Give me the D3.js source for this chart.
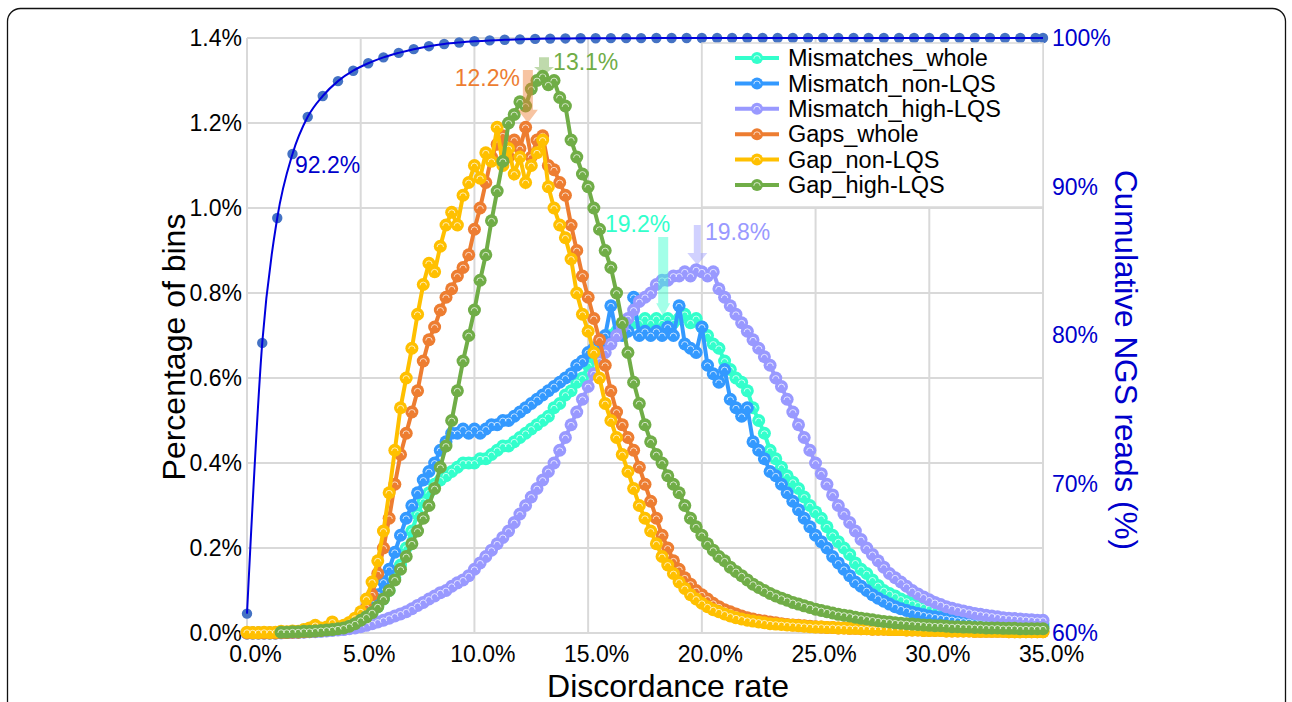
<!DOCTYPE html>
<html>
<head>
<meta charset="utf-8">
<title>Discordance rate</title>
<script src="https://d3js.org/d3.v7.min.js"></script>
<style>
  body { margin: 0; background: #fff; font-family: "Liberation Sans", Arial, Helvetica, sans-serif; }
  svg { display: block; }
</style>
</head>
<body>
<script>
// discordance rate bins (%), every 0.25%
const bins = [
  0,0.25,0.5,0.75,1,1.25,1.5,1.75,2,2.25,2.5,2.75,3,3.25,3.5,3.75,4,4.25,4.5,4.75,
  5,5.25,5.5,5.75,6,6.25,6.5,6.75,7,7.25,7.5,7.75,8,8.25,8.5,8.75,9,9.25,9.5,9.75,
  10,10.25,10.5,10.75,11,11.25,11.5,11.75,12,12.25,12.5,12.75,13,13.25,13.5,13.75,14,14.25,14.5,14.75,
  15,15.25,15.5,15.75,16,16.25,16.5,16.75,17,17.25,17.5,17.75,18,18.25,18.5,18.75,19,19.25,19.5,19.75,
  20,20.25,20.5,20.75,21,21.25,21.5,21.75,22,22.25,22.5,22.75,23,23.25,23.5,23.75,24,24.25,24.5,24.75,
  25,25.25,25.5,25.75,26,26.25,26.5,26.75,27,27.25,27.5,27.75,28,28.25,28.5,28.75,29,29.25,29.5,29.75,
  30,30.25,30.5,30.75,31,31.25,31.5,31.75,32,32.25,32.5,32.75,33,33.25,33.5,33.75,34,34.25,34.5,34.75,
  35];

// percentage of bins (%)
const mismatchesWhole = [
  0,0,0,0,0,0,0.001,0.001,0.002,0.002,0.003,0.003,0.004,0.005,0.006,0.007,0.009,0.012,0.016,0.022,
  0.03,0.038,0.048,0.062,0.08,0.10,0.13,0.16,0.20,0.24,0.28,0.31,0.33,0.35,0.36,0.37,0.38,0.39,0.40,0.40,
  0.40,0.41,0.41,0.42,0.43,0.44,0.44,0.45,0.46,0.47,0.48,0.49,0.50,0.51,0.53,0.54,0.56,0.57,0.59,0.60,
  0.63,0.65,0.67,0.69,0.70,0.71,0.72,0.72,0.73,0.73,0.74,0.73,0.74,0.73,0.74,0.73,0.74,0.75,0.73,0.74,
  0.72,0.70,0.68,0.67,0.64,0.62,0.60,0.59,0.57,0.53,0.50,0.47,0.43,0.41,0.39,0.37,0.355,0.34,0.32,0.30,
  0.285,0.27,0.25,0.23,0.215,0.20,0.185,0.165,0.15,0.14,0.125,0.112,0.10,0.093,0.087,0.08,0.075,0.07,0.066,0.062,
  0.058,0.055,0.052,0.049,0.046,0.044,0.042,0.04,0.038,0.036,0.034,0.032,0.031,0.03,0.028,0.027,0.026,0.025,0.024,0.023,
  0.022];
const mismatchNonLQS = [
  0,0,0,0,0,0,0.001,0.001,0.002,0.002,0.003,0.004,0.005,0.006,0.007,0.009,0.011,0.015,0.02,0.03,
  0.04,0.05,0.07,0.09,0.12,0.15,0.19,0.23,0.27,0.30,0.33,0.36,0.38,0.40,0.43,0.45,0.47,0.47,0.48,0.47,
  0.48,0.47,0.48,0.49,0.49,0.50,0.50,0.51,0.52,0.53,0.54,0.55,0.56,0.57,0.58,0.59,0.60,0.61,0.63,0.64,
  0.66,0.67,0.68,0.70,0.77,0.70,0.70,0.71,0.79,0.70,0.71,0.70,0.71,0.70,0.72,0.70,0.77,0.68,0.67,0.66,
  0.72,0.63,0.61,0.59,0.62,0.55,0.53,0.51,0.53,0.45,0.43,0.41,0.38,0.37,0.35,0.33,0.31,0.29,0.27,0.25,
  0.23,0.215,0.20,0.18,0.165,0.15,0.135,0.12,0.11,0.10,0.09,0.082,0.075,0.068,0.062,0.057,0.053,0.049,0.046,0.043,
  0.04,0.038,0.036,0.034,0.032,0.03,0.028,0.027,0.026,0.024,0.023,0.022,0.021,0.02,0.019,0.018,0.017,0.017,0.016,0.016,
  0.015];
const mismatchHighLQS = [
  0,0,0,0,0,0,0,0.001,0.001,0.002,0.002,0.003,0.003,0.004,0.005,0.006,0.007,0.008,0.01,0.012,
  0.015,0.018,0.022,0.026,0.03,0.035,0.04,0.045,0.05,0.057,0.065,0.072,0.08,0.087,0.095,0.10,0.11,0.118,0.125,0.135,
  0.15,0.165,0.18,0.195,0.21,0.225,0.24,0.26,0.28,0.30,0.32,0.34,0.36,0.38,0.40,0.43,0.46,0.49,0.52,0.55,
  0.58,0.61,0.64,0.66,0.68,0.70,0.72,0.74,0.76,0.78,0.79,0.80,0.82,0.83,0.83,0.84,0.84,0.85,0.84,0.855,
  0.85,0.84,0.85,0.81,0.79,0.77,0.75,0.73,0.71,0.69,0.67,0.65,0.63,0.60,0.58,0.55,0.52,0.49,0.46,0.43,
  0.40,0.375,0.35,0.325,0.30,0.28,0.26,0.24,0.22,0.20,0.185,0.17,0.155,0.14,0.13,0.12,0.11,0.10,0.092,0.085,
  0.078,0.072,0.067,0.062,0.058,0.055,0.052,0.049,0.046,0.044,0.042,0.04,0.038,0.036,0.035,0.034,0.033,0.032,0.031,0.03,
  0.03];
const gapsWhole = [
  0,0,0,0,0,0,0.001,0.001,0.002,0.002,0.003,0.004,0.005,0.006,0.008,0.01,0.012,0.015,0.02,0.028,
  0.04,0.06,0.09,0.14,0.20,0.27,0.35,0.42,0.47,0.52,0.57,0.64,0.69,0.72,0.76,0.79,0.81,0.84,0.86,0.89,
  0.95,1.00,1.06,1.12,1.15,1.17,1.12,1.16,1.14,1.19,1.12,1.16,1.17,1.10,1.09,1.06,1.03,0.96,0.90,0.84,
  0.79,0.74,0.69,0.63,0.57,0.52,0.49,0.46,0.43,0.39,0.35,0.31,0.27,0.23,0.20,0.17,0.15,0.13,0.115,0.10,
  0.09,0.08,0.07,0.062,0.055,0.05,0.045,0.04,0.036,0.033,0.03,0.028,0.026,0.024,0.022,0.02,0.019,0.018,0.017,0.016,
  0.015,0.014,0.013,0.013,0.012,0.012,0.011,0.011,0.010,0.010,0.009,0.009,0.009,0.008,0.008,0.008,0.007,0.007,0.007,0.006,
  0.006,0.006,0.006,0.005,0.005,0.005,0.005,0.005,0.004,0.004,0.004,0.004,0.004,0.004,0.003,0.003,0.003,0.003,0.003,0.003,
  0.003];
const gapNonLQS = [
  0.002,0.001,0.001,0.002,0.001,0.002,0.004,0.003,0.005,0.004,0.008,0.012,0.018,0.012,0.014,0.026,0.015,0.018,0.025,0.035,
  0.05,0.08,0.12,0.17,0.24,0.33,0.43,0.53,0.60,0.67,0.75,0.82,0.87,0.85,0.91,0.96,0.99,0.96,1.03,1.06,
  1.10,1.07,1.13,1.11,1.19,1.10,1.14,1.08,1.12,1.06,1.10,1.13,1.16,1.05,1.00,0.96,0.93,0.88,0.80,0.75,
  0.71,0.66,0.60,0.54,0.50,0.46,0.42,0.38,0.34,0.30,0.27,0.24,0.21,0.18,0.16,0.14,0.12,0.105,0.09,0.08,
  0.07,0.062,0.055,0.05,0.045,0.04,0.036,0.033,0.03,0.028,0.026,0.024,0.022,0.021,0.02,0.019,0.018,0.017,0.016,0.015,
  0.014,0.014,0.013,0.013,0.012,0.012,0.011,0.011,0.010,0.010,0.009,0.009,0.009,0.008,0.008,0.008,0.007,0.007,0.007,0.006,
  0.006,0.006,0.006,0.005,0.005,0.005,0.005,0.005,0.004,0.004,0.004,0.004,0.004,0.004,0.003,0.003,0.003,0.003,0.003,0.003,
  0.003];
const gapHighLQS = [
  null,null,null,null,null,null,0.002,0.002,0.003,0.003,0.004,0.004,0.005,0.006,0.007,0.008,0.01,0.012,0.016,0.022,
  0.03,0.038,0.048,0.062,0.08,0.10,0.125,0.15,0.18,0.21,0.24,0.27,0.30,0.34,0.39,0.44,0.50,0.57,0.64,0.70,
  0.76,0.83,0.89,0.97,1.04,1.11,1.20,1.22,1.25,1.24,1.28,1.30,1.31,1.29,1.30,1.26,1.24,1.16,1.12,1.08,
  1.05,1.00,0.95,0.90,0.86,0.80,0.73,0.66,0.59,0.54,0.49,0.45,0.42,0.40,0.37,0.35,0.33,0.30,0.27,0.25,
  0.23,0.21,0.195,0.18,0.17,0.155,0.145,0.135,0.125,0.115,0.107,0.10,0.093,0.087,0.082,0.077,0.072,0.068,0.064,0.06,
  0.056,0.053,0.05,0.047,0.044,0.042,0.04,0.037,0.035,0.033,0.031,0.029,0.027,0.026,0.024,0.023,0.022,0.021,0.02,0.019,
  0.018,0.017,0.017,0.016,0.015,0.015,0.014,0.014,0.013,0.013,0.012,0.012,0.012,0.011,0.011,0.011,0.010,0.010,0.010,0.010,
  0.01];

// cumulative NGS reads (%), right axis
const cumBins = [0,0.67,1.33,2,2.67,3.33,4,4.67,5.33,6,6.67,7.33,8,8.67,9.33,10,10.67,11.33,12,12.67,13.33,14,14.67,
  15.33,16,16.67,17.33,18,18.67,19.33,20,20.67,21.33,22,22.67,23.33,24,24.67,25.33,26,26.67,27.33,28,28.67,29.33,30,
  30.67,31.33,32,32.67,33.33,34,34.67,35];
const cumReads = [61.3,79.5,87.9,92.2,94.7,96.1,97.1,97.8,98.3,98.7,99.0,99.25,99.45,99.6,99.7,99.78,99.84,99.88,99.91,
  99.94,99.96,99.97,99.98,99.98,99.99,99.99,99.99,100,100,100,100,100,100,100,100,100,100,100,100,100,100,100,100,100,
  100,100,100,100,100,100,100,100,100,100];

const seriesNames = ["Mismatches_whole","Mismatch_non-LQS","Mismatch_high-LQS","Gaps_whole","Gap_non-LQS","Gap_high-LQS"];
const seriesValues = [mismatchesWhole, mismatchNonLQS, mismatchHighLQS, gapsWhole, gapNonLQS, gapHighLQS];
const seriesColors = ["#33ffcc","#3399ff","#9999ff","#ed7d31","#ffc000","#70ad47"];

const xTicks = [0,5,10,15,20,25,30,35];
const yTicks = [0,0.2,0.4,0.6,0.8,1.0,1.2,1.4];
const y2Ticks = [60,70,80,90,100];

// peak marks: label, arrow position (discordance %) and arrow top/neck/tip (percentage of bins)
const peakLabels = ["12.2%","13.1%","19.2%","19.8%"];
const peakColors = ["#ed7d31","#70ad47","#33ffcc","#9999ff"];
const peakArrowX = [12.35, 13.06, 18.3, 19.8];
const peakArrowY = [[1.325,1.231,1.20],[1.355,1.332,1.313],[0.932,0.776,0.746],[0.96,0.894,0.866]];
const peakLabelPos = [[12.0,1.287,"end"],[13.46,1.325,"start"],[15.74,0.944,"start"],[20.14,0.925,"start"]];

const width = 1292, height = 702;
const margin = {top: 38, left: 247};
const w = 796, h = 595;
const font = '"Liberation Sans", Arial, Helvetica, sans-serif';

const svg = d3.select("body").append("svg")
    .attr("width", width).attr("height", height)
    .style("font-family", font);

svg.append("rect")
   .attr("x", 7.5).attr("y", 8.5).attr("width", 1278).attr("height", 740).attr("rx", 13)
   .attr("fill", "none").attr("stroke", "#111").attr("stroke-width", 1.3);

const g = svg.append("g").attr("transform", `translate(${margin.left},${margin.top})`);

const x = d3.scaleLinear().domain([0, 35]).range([0, w]);
const y = d3.scaleLinear().domain([0, 1.4]).range([h, 0]);
const y2 = d3.scaleLinear().domain([60, 100]).range([h, 0]);

// grid
g.selectAll(".vgrid").data(xTicks).enter().append("line")
   .attr("x1", d => x(d)).attr("x2", d => x(d)).attr("y1", 0).attr("y2", h)
   .attr("stroke", "#d9d9d9").attr("stroke-width", 2);
g.selectAll(".hgrid").data(yTicks).enter().append("line")
   .attr("x1", 0).attr("x2", w).attr("y1", d => y(d)).attr("y2", d => y(d))
   .attr("stroke", "#d9d9d9").attr("stroke-width", 2);

// axes
function styleAxis(sel, color) {
  sel.select(".domain").remove();
  sel.selectAll("text").attr("font-size", 23).attr("font-family", font).attr("fill", color);
}
g.append("g")
   .call(d3.axisLeft(y).tickValues(yTicks).tickFormat(d => d.toFixed(1) + "%").tickSize(0).tickPadding(5))
   .call(s => styleAxis(s, "#000"));
g.append("g").attr("transform", `translate(0,${h})`)
   .call(d3.axisBottom(x).tickValues(xTicks).tickFormat(d => d.toFixed(1) + "%").tickSize(0).tickPadding(13))
   .call(s => { styleAxis(s, "#000"); s.selectAll("text").attr("dx", 8); });
g.append("g").attr("transform", `translate(${w},0)`)
   .call(d3.axisRight(y2).tickValues(y2Ticks).tickFormat(d => d + "%").tickSize(0).tickPadding(9))
   .call(s => styleAxis(s, "#0000cc"));

// titles
svg.append("text").attr("x", 668).attr("y", 697).attr("text-anchor", "middle")
   .attr("font-size", 32).attr("fill", "#000").text("Discordance rate");
svg.append("text").attr("transform", "translate(185,347) rotate(-90)").attr("text-anchor", "middle")
   .attr("font-size", 32).attr("fill", "#000").text("Percentage of bins");
svg.append("text").attr("transform", "translate(1115,360) rotate(90)").attr("text-anchor", "middle")
   .attr("font-size", 31.5).attr("fill", "#0000cc").text("Cumulative NGS reads (%)");

// series
const line = d3.line().defined(d => d[1] != null).x(d => x(d[0])).y(d => y(d[1]));
const highlight = "M-3.2,0.8 A3.2,3.2 0 0 1 3.2,0.8";

seriesValues.forEach(function(vals, k) {
  const pts = bins.map((b, i) => [b, vals[i]]);
  const sg = g.append("g");
  sg.append("path").datum(pts).attr("d", line)
     .attr("fill", "none").attr("stroke", seriesColors[k]).attr("stroke-width", 4);
  const ok = pts.filter(d => d[1] != null);
  sg.selectAll("circle").data(ok).enter().append("circle")
     .attr("cx", d => x(d[0])).attr("cy", d => y(d[1])).attr("r", 6.5)
     .attr("fill", seriesColors[k]);
  sg.selectAll(".hl").data(ok).enter().append("path")
     .attr("d", highlight)
     .attr("transform", d => `translate(${x(d[0])},${y(d[1])})`)
     .attr("fill", "none").attr("stroke", "#fff").attr("stroke-width", 1).attr("opacity", 0.7);
});

// cumulative curve
const cumPts = cumBins.map((b, i) => [b, cumReads[i]]);
g.selectAll(".cum").data(cumPts).enter().append("circle")
   .attr("cx", d => x(d[0])).attr("cy", d => y2(d[1])).attr("r", 5.2)
   .attr("fill", "#4472c4");
g.append("path").datum(cumPts)
   .attr("d", d3.line().curve(d3.curveMonotoneX).x(d => x(d[0])).y(d => y2(d[1])))
   .attr("fill", "none").attr("stroke", "#0000dd").attr("stroke-width", 2);
g.append("text").attr("x", x(2.11)).attr("y", y2(90.9))
   .attr("font-size", 23).attr("fill", "#0000cc").text("92.2%");

// peak arrows and labels
peakLabels.forEach(function(lab, k) {
  const cx = x(peakArrowX[k]);
  const [top, neck, tip] = peakArrowY[k].map(v => y(v));
  const sw = k === 3 ? 3.5 : 5, hw = k === 2 ? 7 : 10;
  const p = d3.path();
  p.moveTo(cx - sw, top); p.lineTo(cx + sw, top); p.lineTo(cx + sw, neck);
  p.lineTo(cx + hw, neck); p.lineTo(cx, tip); p.lineTo(cx - hw, neck);
  p.lineTo(cx - sw, neck); p.closePath();
  g.append("path").attr("d", p.toString()).attr("fill", peakColors[k]).attr("opacity", 0.45);
  const lp = peakLabelPos[k];
  g.append("text").attr("x", x(lp[0])).attr("y", y(lp[1])).attr("text-anchor", lp[2])
     .attr("font-size", 23).attr("fill", peakColors[k]).text(lab);
});

// legend
const lg = svg.append("g").attr("transform", `translate(${margin.left + x(35) - 341},${margin.top + 5})`);
lg.append("rect").attr("width", 341).attr("height", 164)
   .attr("fill", "#fff").attr("stroke", "#d9d9d9").attr("stroke-width", 1.5);
seriesNames.forEach(function(name, k) {
  const ly = 15 + k * 25.4;
  lg.append("line").attr("x1", 33).attr("x2", 77).attr("y1", ly).attr("y2", ly)
     .attr("stroke", seriesColors[k]).attr("stroke-width", 4);
  lg.append("circle").attr("cx", 55).attr("cy", ly).attr("r", 6).attr("fill", seriesColors[k]);
  lg.append("path").attr("d", highlight).attr("transform", `translate(55,${ly})`)
     .attr("fill", "none").attr("stroke", "#fff").attr("stroke-width", 1).attr("opacity", 0.7);
  lg.append("text").attr("x", 86).attr("y", ly).attr("dy", "0.35em")
     .attr("font-size", 23.5).attr("fill", "#000").text(name);
});
</script>
</body>
</html>
